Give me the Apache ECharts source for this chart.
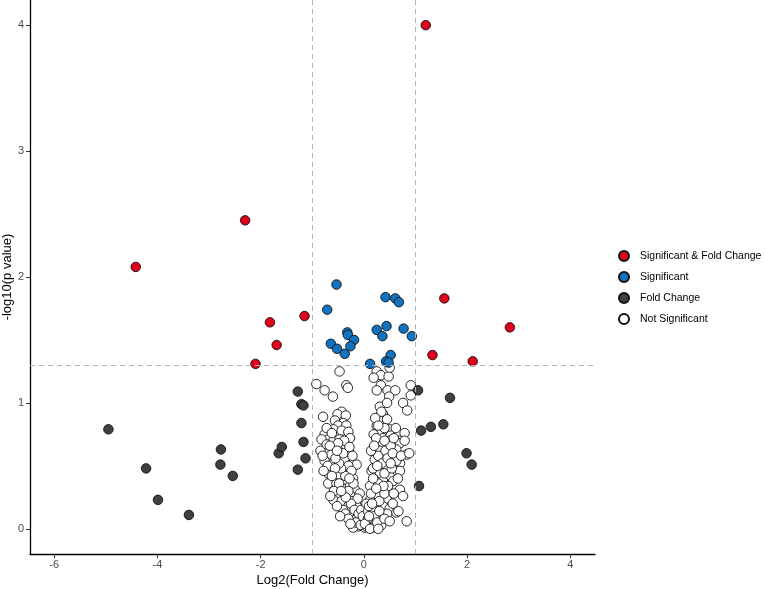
<!DOCTYPE html>
<html>
<head>
<meta charset="utf-8">
<script src="https://cdn.jsdelivr.net/npm/echarts@6/dist/echarts.min.js"></script>
<style>
  html, body { margin: 0; padding: 0; background: #fff; }
  #chart { width: 765px; height: 589px; }
</style>
</head>
<body>
<div id="chart"></div>
<script>
  // points: [log2 fold change, -log10 p]
  var sigAndFold = [
    [1.20, 4.00], [-2.30, 2.45], [-4.42, 2.08], [-1.15, 1.69], [-1.82, 1.64],
    [-1.69, 1.46], [-2.10, 1.31], [1.56, 1.83], [2.83, 1.60], [1.33, 1.38], [2.11, 1.33]
  ];
  var sigOnly = [
    [-0.53, 1.94], [-0.71, 1.74], [0.42, 1.84], [0.61, 1.83], [0.68, 1.80],
    [-0.32, 1.56], [-0.31, 1.54], [-0.19, 1.50], [-0.64, 1.47], [-0.26, 1.45],
    [-0.52, 1.43], [-0.37, 1.39], [0.25, 1.58], [0.44, 1.61], [0.36, 1.53],
    [0.77, 1.59], [0.93, 1.53], [0.12, 1.31], [0.52, 1.38], [0.43, 1.33], [0.48, 1.32]
  ];
  var foldOnly = [
    [-4.95, 0.79], [-4.22, 0.48], [-3.99, 0.23], [-3.39, 0.11], [-2.77, 0.63],
    [-2.78, 0.51], [-2.54, 0.42], [-1.65, 0.60], [-1.59, 0.65], [-1.28, 1.09],
    [-1.21, 0.99], [-1.17, 0.98], [-1.21, 0.84], [-1.17, 0.69], [-1.13, 0.56],
    [-1.28, 0.47], [1.05, 1.10], [1.67, 1.04], [1.11, 0.78], [1.30, 0.81],
    [1.54, 0.83], [1.99, 0.60], [2.09, 0.51], [1.07, 0.34]
  ];
  var notSig = [
    // upper part
    [-0.47, 1.25], [-0.92, 1.15], [-0.76, 1.10], [-0.60, 1.05], [-0.34, 1.14], [-0.31, 1.12],
    [0.25, 1.25], [0.33, 1.22], [0.48, 1.21], [0.19, 1.20], [0.33, 1.14], [0.25, 1.10],
    [0.46, 1.10], [0.61, 1.10], [0.49, 1.05], [0.31, 0.97], [0.45, 1.00], [0.76, 1.00],
    [0.84, 0.94], [0.91, 1.14], [0.91, 1.06], [0.37, 0.91], [0.28, 0.87], [0.45, 0.87],
    [0.25, 0.82], [0.30, 0.77], [0.50, 0.79], [0.19, 0.75], [0.37, 0.72], [0.52, 0.74],
    [0.79, 0.76], [0.69, 0.70], [0.34, 0.93], [0.50, 1.28],
    [-0.43, 0.93], [-0.51, 0.91], [-0.35, 0.90], [-0.56, 0.86], [-0.40, 0.84], [-0.50, 0.82],
    [-0.34, 0.82], [-0.59, 0.79], [-0.43, 0.78], [-0.30, 0.77], [-0.79, 0.89], [-0.76, 0.75],
    [-0.69, 0.71], [-0.59, 0.70], [-0.47, 0.71], [-0.27, 0.72], [-0.82, 0.71],
    // left arm
    [-0.84, 0.62], [-0.72, 0.67], [-0.59, 0.64], [-0.47, 0.63], [-0.34, 0.66], [-0.27, 0.60],
    [-0.63, 0.59], [-0.43, 0.58], [-0.76, 0.54], [-0.59, 0.52], [-0.34, 0.54], [-0.21, 0.52],
    [-0.14, 0.51], [-0.69, 0.44], [-0.53, 0.46], [-0.40, 0.47], [-0.27, 0.44], [-0.47, 0.42],
    [-0.63, 0.38], [-0.69, 0.36], [-0.53, 0.36], [-0.34, 0.38], [-0.21, 0.40], [-0.40, 0.32],
    [-0.27, 0.34], [-0.17, 0.31], [-0.08, 0.28], [-0.47, 0.27], [-0.27, 0.27], [-0.59, 0.23],
    [-0.43, 0.22], [-0.21, 0.22], [-0.30, 0.18], [-0.14, 0.18], [-0.40, 0.15], [-0.21, 0.12],
    [-0.08, 0.10], [-0.17, 0.07], [-0.01, 0.06], [-0.11, 0.02], [0.02, 0.01], [-0.21, 0.01],
    [0.12, 0.03], [-0.05, 0.08],
    [-0.38, 0.55], [-0.30, 0.50], [-0.24, 0.46], [-0.36, 0.42], [-0.44, 0.48], [-0.20, 0.36],
    [-0.30, 0.30], [-0.12, 0.24], [-0.25, 0.20], [-0.35, 0.25], [-0.18, 0.15], [-0.10, 0.12],
    [-0.05, 0.15], [-0.28, 0.40], [-0.40, 0.60], [-0.22, 0.58], [-0.48, 0.52], [-0.55, 0.56],
    [-0.15, 0.05], [-0.06, 0.03], [-0.02, 0.10], [-0.38, 0.70], [-0.28, 0.65], [-0.50, 0.68],
    [-0.72, 0.80], [-0.62, 0.76], [-0.66, 0.66], [-0.52, 0.62], [-0.80, 0.58], [-0.70, 0.50],
    [-0.56, 0.48], [-0.78, 0.46], [-0.62, 0.42], [-0.48, 0.36], [-0.58, 0.30], [-0.44, 0.30],
    [-0.52, 0.18], [-0.36, 0.12], [-0.30, 0.08], [-0.26, 0.04], [-0.46, 0.10], [-0.65, 0.26],
    // right arm
    [0.25, 0.67], [0.37, 0.68], [0.50, 0.70], [0.70, 0.68], [0.79, 0.70], [0.31, 0.62],
    [0.47, 0.60], [0.63, 0.63], [0.83, 0.59], [0.21, 0.55], [0.37, 0.56], [0.57, 0.54],
    [0.70, 0.52], [0.44, 0.50], [0.63, 0.46], [0.15, 0.46], [0.31, 0.44], [0.50, 0.42],
    [0.21, 0.39], [0.37, 0.38], [0.57, 0.38], [0.12, 0.34], [0.34, 0.31], [0.47, 0.34],
    [0.70, 0.31], [0.25, 0.27], [0.12, 0.23], [0.44, 0.24], [0.76, 0.26], [0.05, 0.20],
    [0.21, 0.19], [0.37, 0.18], [0.50, 0.16], [0.08, 0.14], [0.21, 0.14], [0.34, 0.10],
    [0.15, 0.07], [0.05, 0.02], [0.18, 0.01], [0.34, 0.03], [0.63, 0.13], [0.83, 0.06],
    [0.63, 0.54], [0.70, 0.46],
    [0.28, 0.58], [0.42, 0.62], [0.18, 0.48], [0.28, 0.36], [0.40, 0.44], [0.14, 0.28],
    [0.30, 0.22], [0.20, 0.10], [0.08, 0.08], [0.10, 0.18], [0.26, 0.05], [0.40, 0.28],
    [0.54, 0.48], [0.24, 0.72], [0.40, 0.80], [0.22, 0.88], [0.14, 0.62], [0.52, 0.66],
    [0.02, 0.04], [0.12, 0.00], [0.45, 0.12], [0.30, 0.14], [0.35, 0.52], [0.18, 0.40],
    [0.28, 0.82], [0.40, 0.70], [0.58, 0.72], [0.62, 0.80], [0.20, 0.66], [0.46, 0.56],
    [0.56, 0.60], [0.72, 0.58], [0.26, 0.50], [0.52, 0.52], [0.38, 0.34], [0.58, 0.28],
    [0.24, 0.32], [0.16, 0.20], [0.40, 0.08], [0.50, 0.06], [0.28, 0.00], [0.10, 0.10],
    [0.56, 0.20], [0.66, 0.40], [0.88, 0.60], [0.67, 0.14]
  ];

  var xTicks = [-6, -4, -2, 0, 2, 4];
  var yTicks = [0, 1, 2, 3, 4];
  var foldCut = [-1, 1];
  var pCut = 1.301;   // -log10(0.05)

  var names = ['Significant & Fold Change', 'Significant', 'Fold Change', 'Not Significant'];
  var colors = ['#E0001B', '#1172BF', '#404040', '#FFFFFF'];

  var chart = echarts.init(document.getElementById('chart'));

  function pointSeries(name, color, data) {
    return {
      name: name,
      type: 'scatter',
      data: data,
      symbol: 'circle',
      symbolSize: 9.5,
      z: 3,
      itemStyle: { color: color, borderColor: '#111', borderWidth: 0.9, opacity: 1 }
    };
  }

  var font = 'Arial, "Liberation Sans", sans-serif';
  var axisLab = { color: '#4D4D4D', fontSize: 11, fontFamily: font };

  var option = {
    animation: false,
    backgroundColor: '#fff',
    grid: { left: 30, right: 170, top: 0, bottom: 35, outerBoundsMode: 'none', containLabel: false },
    xAxis: {
      type: 'value',
      min: -6.47,
      max: 4.48,
      name: 'Log2(Fold Change)',
      nameLocation: 'middle',
      nameGap: 20,
      nameMoveOverlap: false,
      nameTextStyle: { color: '#000', fontSize: 13, fontFamily: font },
      axisLine: { onZero: false, lineStyle: { color: '#000', width: 1.3 } },
      axisTick: { show: true, length: 4, customValues: xTicks, lineStyle: { color: '#333' } },
      axisLabel: Object.assign({ margin: 5, customValues: xTicks }, axisLab),
      splitLine: { show: false }
    },
    yAxis: {
      type: 'value',
      min: -0.2,
      max: 4.2,
      name: '-log10(p value)',
      nameLocation: 'middle',
      nameGap: 16,
      nameMoveOverlap: false,
      nameTextStyle: { color: '#000', fontSize: 13, fontFamily: font },
      axisLine: { onZero: false, lineStyle: { color: '#000', width: 1.3 } },
      axisTick: { show: true, length: 4, customValues: yTicks, lineStyle: { color: '#333' } },
      axisLabel: Object.assign({ margin: 6, customValues: yTicks }, axisLab),
      splitLine: { show: false }
    },
    legend: {
      orient: 'vertical',
      left: 618,
      top: 250,
      padding: 0,
      itemWidth: 22,
      itemHeight: 10,
      itemGap: 9,
      icon: 'circle',
      data: names,
      textStyle: { color: '#000', fontSize: 10.5, lineHeight: 12, fontFamily: font }
    },
    series: [
      {
        // threshold lines
        name: 'cutoffs',
        type: 'scatter',
        data: [],
        z: 1,
        markLine: {
          silent: true,
          symbol: ['none', 'none'],
          label: { show: false },
          lineStyle: { color: '#B3B3B3', type: [5, 4], width: 1 },
          data: [{ yAxis: pCut }].concat(foldCut.map(function (v) { return { xAxis: v }; }))
        }
      },
      pointSeries(names[3], colors[3], notSig),
      pointSeries(names[2], colors[2], foldOnly),
      pointSeries(names[1], colors[1], sigOnly),
      pointSeries(names[0], colors[0], sigAndFold)
    ]
  };

  chart.setOption(option);
</script>
</body>
</html>
